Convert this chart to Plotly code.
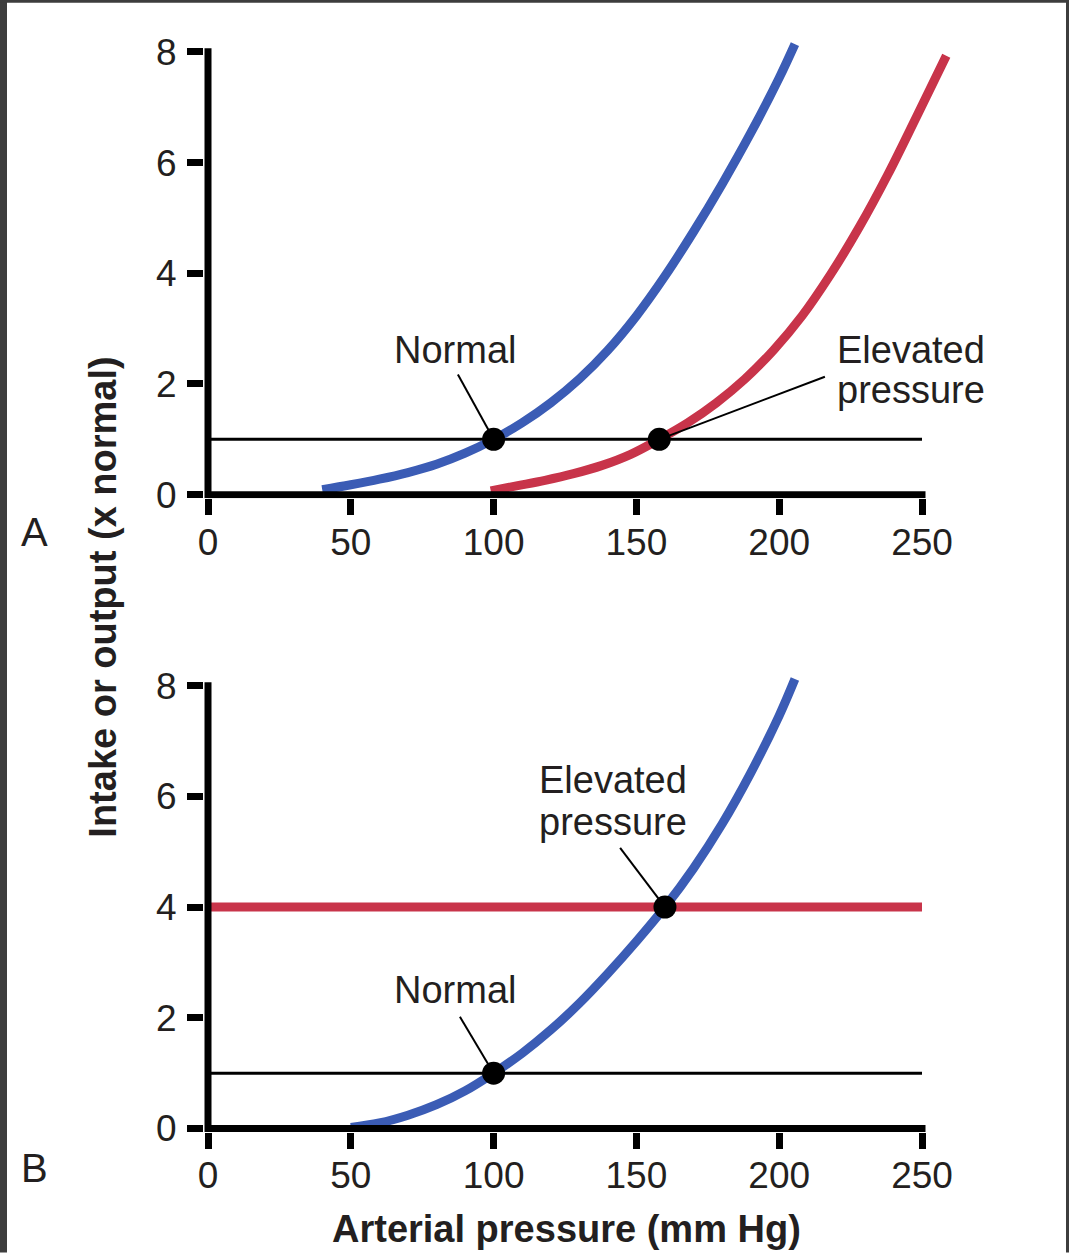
import plotly.graph_objects as go

# ---------------- data ----------------
# Panel A: renal output curves
pressure_a_normal = [40, 50, 60, 70, 80, 90, 100, 110, 120, 130, 140, 150, 160, 170, 180, 190, 200, 205.5]
output_a_normal = [0.09, 0.18, 0.28, 0.40, 0.55, 0.75, 1.0, 1.30, 1.66, 2.09, 2.61, 3.23, 3.95, 4.75, 5.61, 6.53, 7.53, 8.14]
pressure_a_elevated = [99, 108, 118, 128, 138, 148, 158, 168, 178, 188, 198, 208, 218, 228, 238, 248, 258.5]
output_a_elevated = [0.07, 0.16, 0.26, 0.38, 0.53, 0.73, 1.0, 1.30, 1.66, 2.09, 2.61, 3.23, 3.98, 4.83, 5.78, 6.82, 7.93]
# Panel B: renal output curve
pressure_b = [50, 60, 70, 80, 90, 100, 110, 120, 130, 140, 150, 160, 170, 180, 190, 200, 205.5]
output_b = [0.02, 0.10, 0.24, 0.43, 0.68, 1.0, 1.36, 1.78, 2.26, 2.80, 3.38, 4.0, 4.70, 5.50, 6.42, 7.46, 8.12]
# intake levels
intake_span = [0, 250]
intake_normal = [1, 1]
intake_high = [4, 4]
# equilibrium points
eq_a_x = [100, 158]
eq_a_y = [1, 1]
eq_b_x = [100, 160]
eq_b_y = [1, 4]
# ticks
x_ticks = [0, 50, 100, 150, 200, 250]
y_ticks = [0, 2, 4, 6, 8]

# ---------------- geometry / style ----------------
W, H = 1069, 1253
BLUE = "#3b5cb5"
RED = "#c8344a"
INK = "#231f20"
FONT = "Liberation Sans, Arial, Helvetica, sans-serif"
FS_TICK = 37
FS_TXT = 38
AXW = 7
CURVE_W = 9

X0_PX, X250_PX = 208, 922
PX_PER_X = (X250_PX - X0_PX) / 250.0
L, R = 204, 112
plot_left, plot_right = L, W - R
plot_w = plot_right - plot_left
x_range = [(plot_left - X0_PX) / PX_PER_X, (plot_right - X0_PX) / PX_PER_X]

PX_PER_Y = (495 - 52) / 8.0
A_ZERO, B_ZERO = 495, 1129
y_lo, y_hi = -0.063, 8.25
y_range = [y_lo, y_hi]
A_top = A_ZERO - y_hi * PX_PER_Y
A_bot = A_ZERO - y_lo * PX_PER_Y
B_top = B_ZERO - y_hi * PX_PER_Y
B_bot = B_ZERO - y_lo * PX_PER_Y
plot_h = B_bot - A_top
domA = [(B_bot - A_bot) / plot_h, 1.0]
domB = [0.0, (B_bot - B_top) / plot_h]


def px_x(px):
    return (px - plot_left) / plot_w


def px_y(py):
    return (B_bot - py) / plot_h


fig = go.Figure()

panels = [("x", "y"), ("x2", "y2")]

# intake lines
fig.add_trace(go.Scatter(x=intake_span, y=intake_normal, mode="lines",
                         line=dict(color="black", width=3), xaxis="x", yaxis="y",
                         showlegend=False, hoverinfo="skip"))
fig.add_trace(go.Scatter(x=intake_span, y=intake_normal, mode="lines",
                         line=dict(color="black", width=3), xaxis="x2", yaxis="y2",
                         showlegend=False, hoverinfo="skip"))
fig.add_trace(go.Scatter(x=intake_span, y=intake_high, mode="lines",
                         line=dict(color=RED, width=CURVE_W), xaxis="x2", yaxis="y2",
                         showlegend=False, hoverinfo="skip"))

# output curves
fig.add_trace(go.Scatter(x=pressure_a_elevated, y=output_a_elevated, mode="lines",
                         line=dict(color=RED, width=CURVE_W, shape="spline", smoothing=1.0),
                         xaxis="x", yaxis="y", showlegend=False))
fig.add_trace(go.Scatter(x=pressure_a_normal, y=output_a_normal, mode="lines",
                         line=dict(color=BLUE, width=CURVE_W, shape="spline", smoothing=1.0),
                         xaxis="x", yaxis="y", showlegend=False))
fig.add_trace(go.Scatter(x=pressure_b, y=output_b, mode="lines",
                         line=dict(color=BLUE, width=CURVE_W, shape="spline", smoothing=1.0),
                         xaxis="x2", yaxis="y2", showlegend=False))

# equilibrium dots
fig.add_trace(go.Scatter(x=eq_a_x, y=eq_a_y, mode="markers",
                         marker=dict(color="black", size=23), xaxis="x", yaxis="y",
                         showlegend=False))
fig.add_trace(go.Scatter(x=eq_b_x, y=eq_b_y, mode="markers",
                         marker=dict(color="black", size=23), xaxis="x2", yaxis="y2",
                         showlegend=False))

shapes = []
# axis lines (drawn in data coordinates, limited to 0..250 and 0..8)
x_over = (AXW / 2) / PX_PER_X
y_over = (AXW / 2) / PX_PER_Y
for xr, yr in panels:
    shapes.append(dict(type="line", xref=xr, yref=yr, x0=x_ticks[0], x1=x_ticks[-1] + x_over,
                       y0=0, y1=0, line=dict(color="black", width=AXW), layer="above"))
    shapes.append(dict(type="line", xref=xr, yref=yr, x0=0, x1=0,
                       y0=y_lo, y1=y_ticks[-1] + y_over, line=dict(color="black", width=AXW),
                       layer="above"))

# leader lines
leaders = [
    ("x", "y", 87.5, 2.17, eq_a_x[0], eq_a_y[0]),
    ("x", "y", 216.0, 2.13, eq_a_x[1], eq_a_y[1]),
    ("x2", "y2", 88.2, 2.02, eq_b_x[0], eq_b_y[0]),
    ("x2", "y2", 144.3, 5.07, eq_b_x[1], eq_b_y[1]),
]
for xr, yr, x0, y0, x1, y1 in leaders:
    shapes.append(dict(type="line", xref=xr, yref=yr, x0=x0, y0=y0, x1=x1, y1=y1,
                       line=dict(color="black", width=2), layer="above"))

# dark frame around the page
FRAME = "#3d3d3d"
for (a, b, c, d) in [(0, 0, 7, H), (0, 0, W, 3), (W - 3, 0, W, H)]:
    shapes.append(dict(type="rect", xref="paper", yref="paper",
                       x0=px_x(a), x1=px_x(c), y0=px_y(d), y1=px_y(b),
                       fillcolor=FRAME, line=dict(width=0), layer="above"))

txt = dict(family=FONT, size=FS_TXT, color=INK)
tickf = dict(family=FONT, size=FS_TICK, color=INK)


def note(text, x, y, xr, yr, xanchor="center", font=txt, angle=0):
    return dict(text=text, x=x, y=y, xref=xr, yref=yr, showarrow=False,
                xanchor=xanchor, yanchor="middle", align="left", font=font,
                textangle=angle)


annotations = [
    note("Normal", 86.5, 2.62, "x", "y"),
    note("Elevated", 219.5, 2.62, "x", "y", xanchor="left"),
    note("pressure", 219.5, 1.90, "x", "y", xanchor="left"),
    note("Normal", 86.5, 2.51, "x2", "y2"),
    note("Elevated", 115.2, 6.30, "x2", "y2", xanchor="left"),
    note("pressure", 115.2, 5.53, "x2", "y2", xanchor="left"),
    note("A", px_x(34), px_y(532), "paper", "paper", font=dict(family=FONT, size=40, color=INK)),
    note("B", px_x(34), px_y(1168), "paper", "paper", font=dict(family=FONT, size=40, color=INK)),
    note("<b>Intake or output (x normal)</b>", px_x(103), px_y(598), "paper", "paper", angle=-90),
    note("<b>Arterial pressure (mm Hg)</b>", px_x(566), px_y(1230), "paper", "paper"),
]

xax = dict(range=x_range, showline=False, showgrid=False, zeroline=False,
           ticks="outside", ticklen=16, tickwidth=AXW, tickcolor="black",
           tickvals=x_ticks, ticktext=[str(v) for v in x_ticks],
           tickfont=tickf, automargin=False, fixedrange=True, ticklabelstandoff=-5)
yax = dict(range=y_range, showline=False, showgrid=False, zeroline=False,
           ticks="outside", ticklen=16, tickwidth=AXW, tickcolor="black",
           tickvals=y_ticks, ticktext=[str(v) for v in y_ticks],
           tickfont=tickf, automargin=False, fixedrange=True, ticklabelstandoff=3)

fig.update_layout(
    width=W, height=H,
    margin=dict(l=L, r=R, t=A_top, b=H - B_bot, pad=0),
    paper_bgcolor="white", plot_bgcolor="white",
    font=dict(family=FONT, color=INK),
    showlegend=False,
    xaxis=dict(xax, anchor="y", domain=[0, 1]),
    yaxis=dict(yax, anchor="x", domain=domA),
    xaxis2=dict(xax, anchor="y2", domain=[0, 1]),
    yaxis2=dict(yax, anchor="x2", domain=domB),
    shapes=shapes,
    annotations=annotations,
)

fig.write_html("out.html", config=dict(displayModeBar=False))
